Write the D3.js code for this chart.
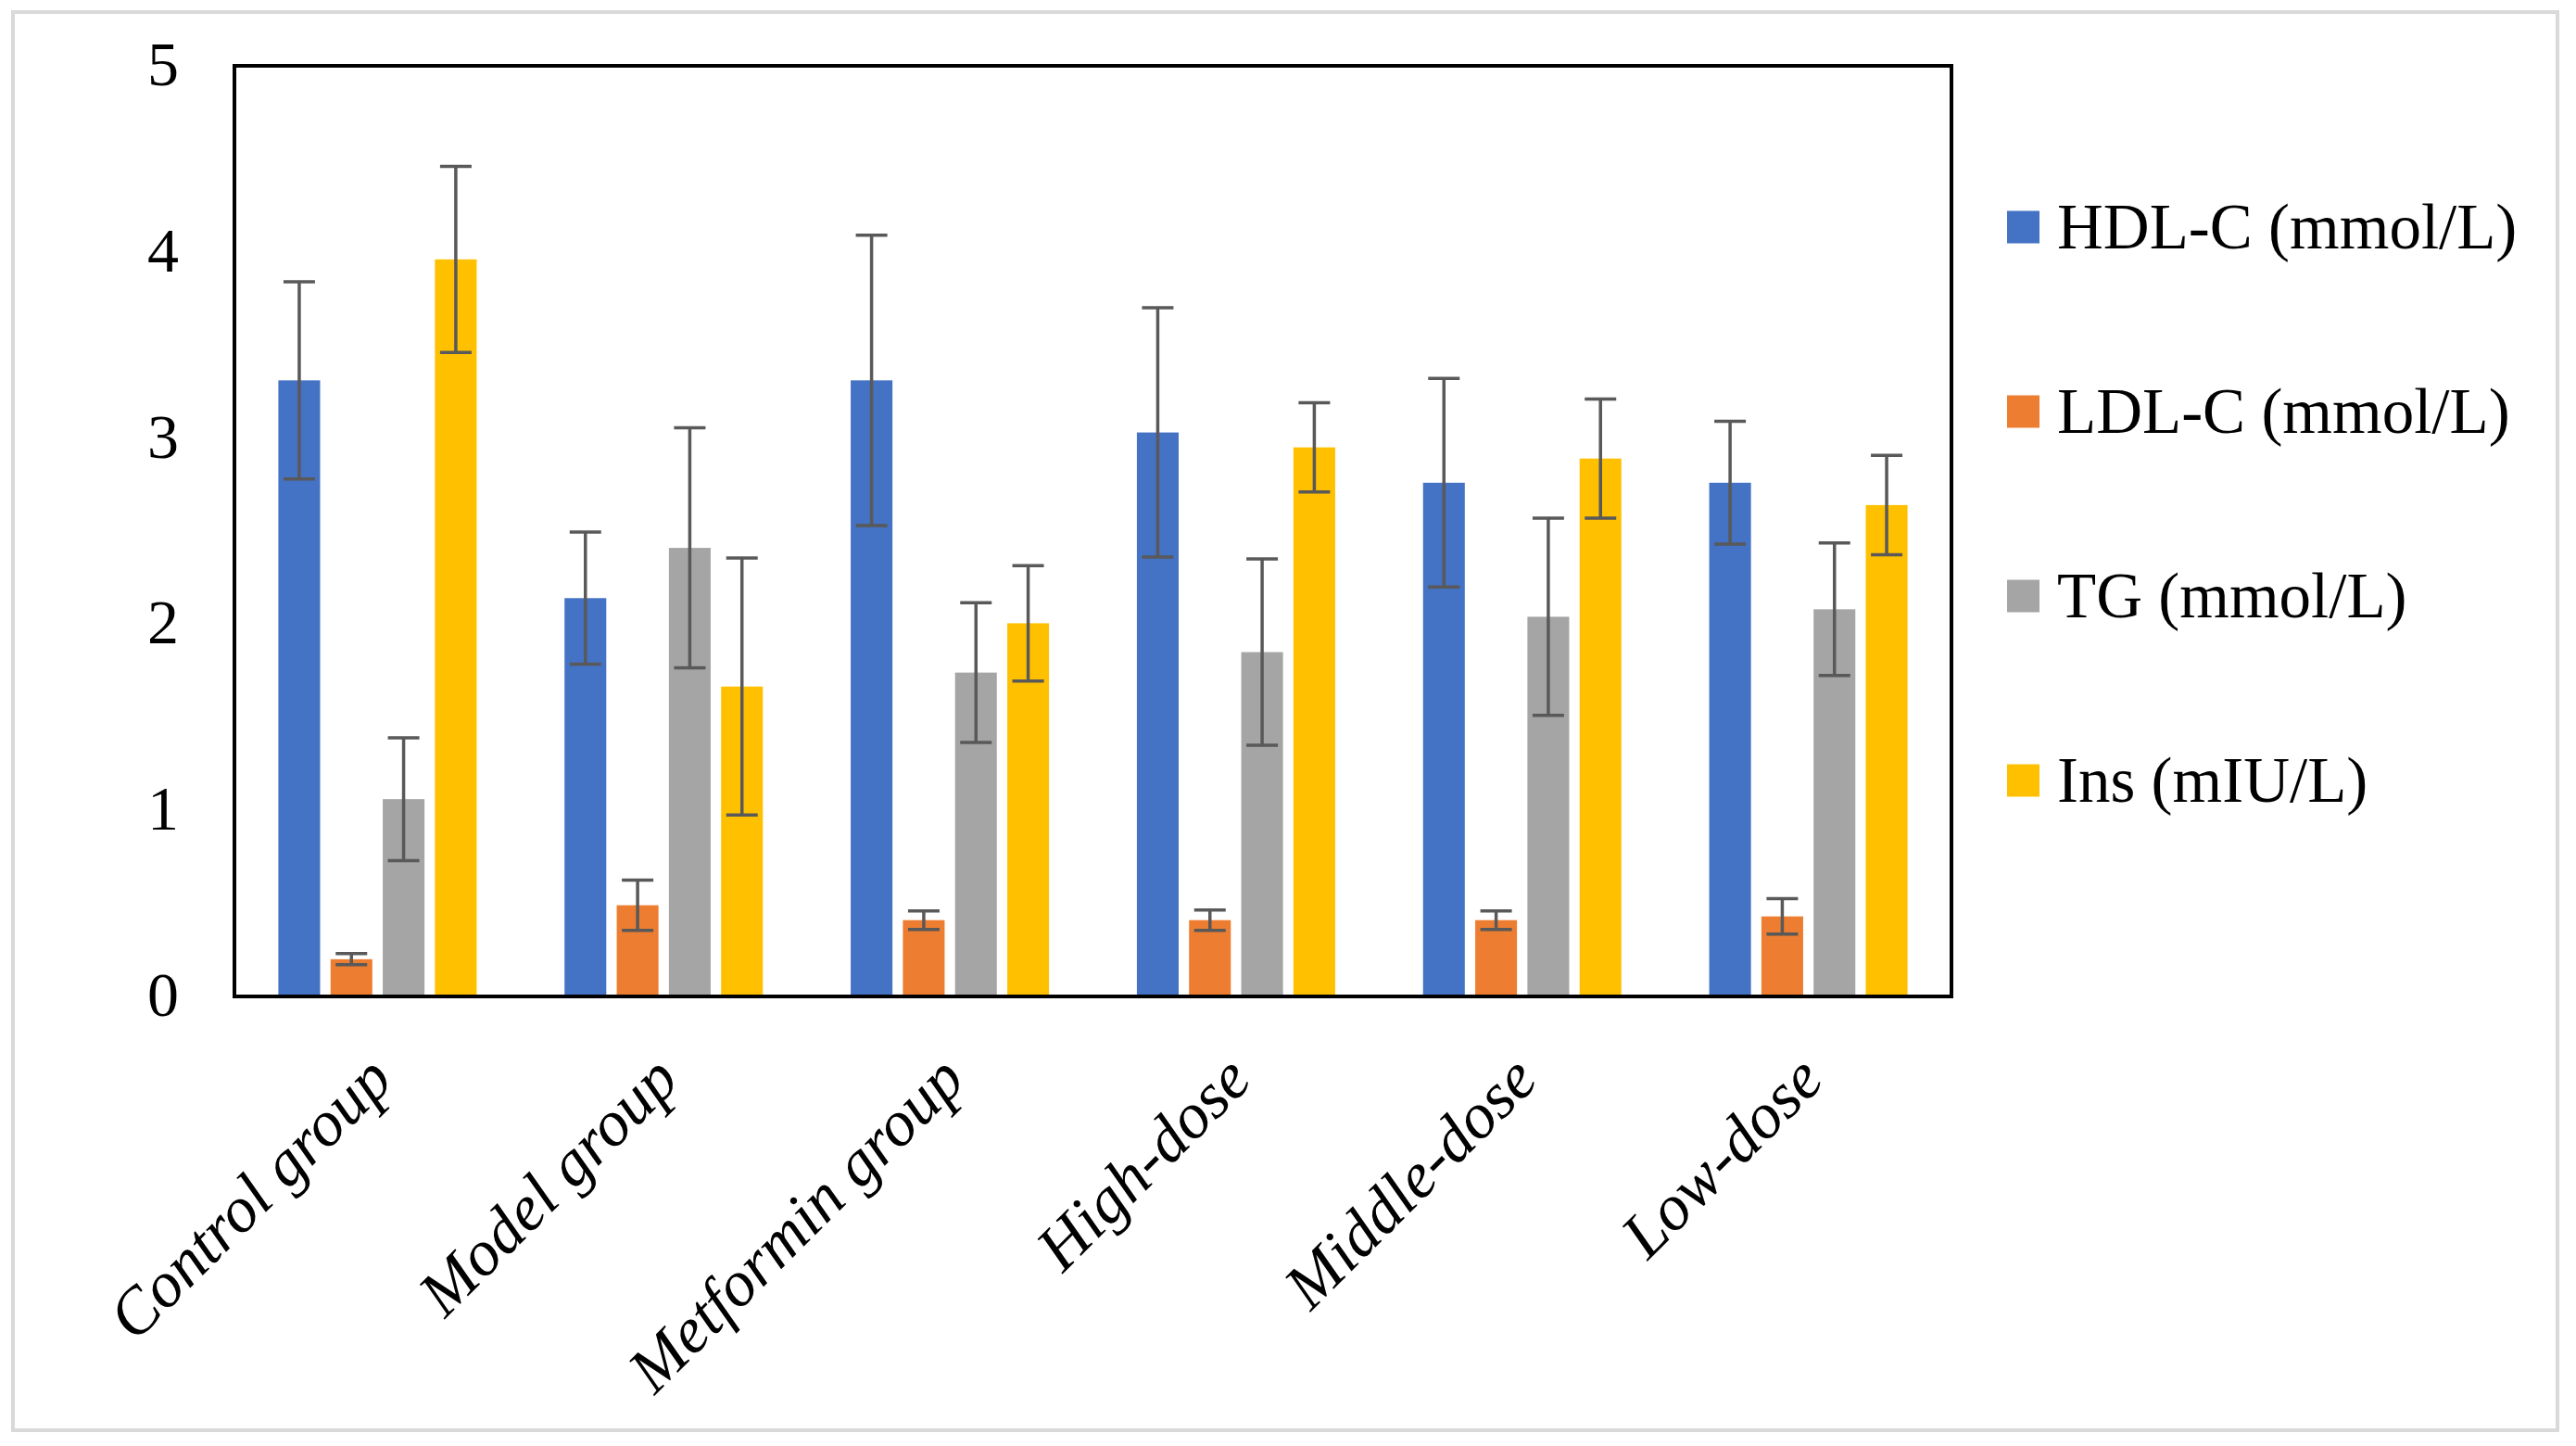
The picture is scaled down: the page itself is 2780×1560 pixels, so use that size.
<!DOCTYPE html>
<html>
<head>
<meta charset="utf-8">
<script src="https://cdn.jsdelivr.net/npm/d3@7"></script>
<style>
  body { margin: 0; background: #fff; }
  svg { display: block; }
</style>
</head>
<body>
<div id="chart"></div>
<script>
// ===== data =====
const groups = ["Control group", "Model group", "Metformin group", "High-dose", "Middle-dose", "Low-dose"];
const seriesNames = ["HDL-C (mmol/L)", "LDL-C (mmol/L)", "TG (mmol/L)", "Ins (mIU/L)"];
const seriesColors = ["#4472C4", "#ED7D31", "#A5A5A5", "#FFC000"];

const hdl = [3.31, 2.14, 3.31, 3.03, 2.76, 2.76];
const hdlErr = [0.53, 0.355, 0.78, 0.67, 0.56, 0.33];
const ldl = [0.20, 0.49, 0.41, 0.41, 0.41, 0.43];
const ldlErr = [0.03, 0.135, 0.05, 0.055, 0.05, 0.095];
const tg = [1.06, 2.41, 1.74, 1.85, 2.04, 2.08];
const tgErr = [0.33, 0.645, 0.375, 0.50, 0.53, 0.356];
const ins = [3.96, 1.665, 2.005, 2.95, 2.89, 2.64];
const insErr = [0.50, 0.69, 0.31, 0.24, 0.32, 0.267];

const yTicks = [0, 1, 2, 3, 4, 5];

const values = [hdl, ldl, tg, ins];
const errors = [hdlErr, ldlErr, tgErr, insErr];

// table of bars built from the arrays
const bars = [];
groups.forEach((g, gi) => {
  seriesNames.forEach((s, si) => {
    bars.push({group: g, series: s, color: seriesColors[si], value: values[si][gi], err: errors[si][gi]});
  });
});

// ===== chart setup =====
const svgWidth = 2780;
const svgHeight = 1560;
const plot = {left: 253, right: 2106, top: 71, bottom: 1075};
const font = "'Liberation Serif', 'Times New Roman', serif";

const svg = d3.select("#chart").append("svg")
  .attr("width", svgWidth)
  .attr("height", svgHeight);

// outer frame
svg.append("rect")
  .attr("x", 14).attr("y", 13)
  .attr("width", 2746).attr("height", 1530)
  .attr("fill", "#fff")
  .attr("stroke", "#d9d9d9")
  .attr("stroke-width", 4);

// ===== scales =====
const x0 = d3.scaleBand().domain(groups).range([plot.left, plot.right]).paddingInner(0.307).paddingOuter(0.1535);
const x1 = d3.scaleBand().domain(seriesNames).range([0, x0.bandwidth()]).paddingInner(0.2);
const y = d3.scaleLinear().domain([0, 5]).range([plot.bottom, plot.top]);

// ===== bars =====
svg.append("g")
  .selectAll("rect")
  .data(bars)
  .enter()
  .append("rect")
  .attr("x", d => x0(d.group) + x1(d.series))
  .attr("y", d => y(d.value))
  .attr("width", x1.bandwidth())
  .attr("height", d => y(0) - y(d.value))
  .attr("fill", d => d.color);

// ===== error bars =====
const capHalf = 17;
const errG = svg.append("g").attr("stroke", "#595959").attr("stroke-width", 3.5);
bars.forEach(d => {
  const cx = x0(d.group) + x1(d.series) + x1.bandwidth() / 2;
  const yHi = y(d.value + d.err), yLo = y(d.value - d.err);
  errG.append("line").attr("x1", cx).attr("x2", cx).attr("y1", yHi).attr("y2", yLo);
  errG.append("line").attr("x1", cx - capHalf).attr("x2", cx + capHalf).attr("y1", yHi).attr("y2", yHi);
  errG.append("line").attr("x1", cx - capHalf).attr("x2", cx + capHalf).attr("y1", yLo).attr("y2", yLo);
});

// plot border
svg.append("rect")
  .attr("x", plot.left).attr("y", plot.top)
  .attr("width", plot.right - plot.left).attr("height", plot.bottom - plot.top)
  .attr("fill", "none")
  .attr("stroke", "#000")
  .attr("stroke-width", 4);

// ===== y axis labels =====
const yAxis = d3.axisLeft(y).tickValues(yTicks).tickFormat(d3.format("d")).tickSize(0).tickPadding(60);
const yG = svg.append("g").attr("transform", `translate(${plot.left},0)`).call(yAxis);
yG.select(".domain").remove();
yG.selectAll("text")
  .attr("font-family", font)
  .attr("font-size", "68px")
  .attr("dy", "0.3em")
  .attr("fill", "#000");

// ===== x axis labels =====
const xAxis = d3.axisBottom(x0).tickSize(0).tickPadding(0);
const xG = svg.append("g").attr("transform", `translate(0,${plot.bottom})`).call(xAxis);
xG.select(".domain").remove();
xG.selectAll("text")
  .attr("font-family", font)
  .attr("font-style", "italic")
  .attr("font-size", "70px")
  .attr("fill", "#000")
  .attr("text-anchor", "end")
  .attr("dy", "0")
  .attr("y", 0)
  .attr("transform", `translate(${x0.bandwidth() * 0.09}, 93) rotate(-45)`);

// ===== legend =====
const legend = svg.append("g")
  .selectAll("g")
  .data(seriesNames)
  .enter()
  .append("g")
  .attr("transform", (d, i) => `translate(2166, ${245 + i * 199})`);

legend.append("rect")
  .attr("x", 0).attr("y", -17.5)
  .attr("width", 35).attr("height", 35)
  .attr("fill", (d, i) => seriesColors[i]);

legend.append("text")
  .attr("x", 54)
  .attr("y", 0)
  .attr("dy", "0.33em")
  .attr("font-family", font)
  .attr("font-size", "69px")
  .attr("fill", "#000")
  .text(d => d);
</script>
</body>
</html>
